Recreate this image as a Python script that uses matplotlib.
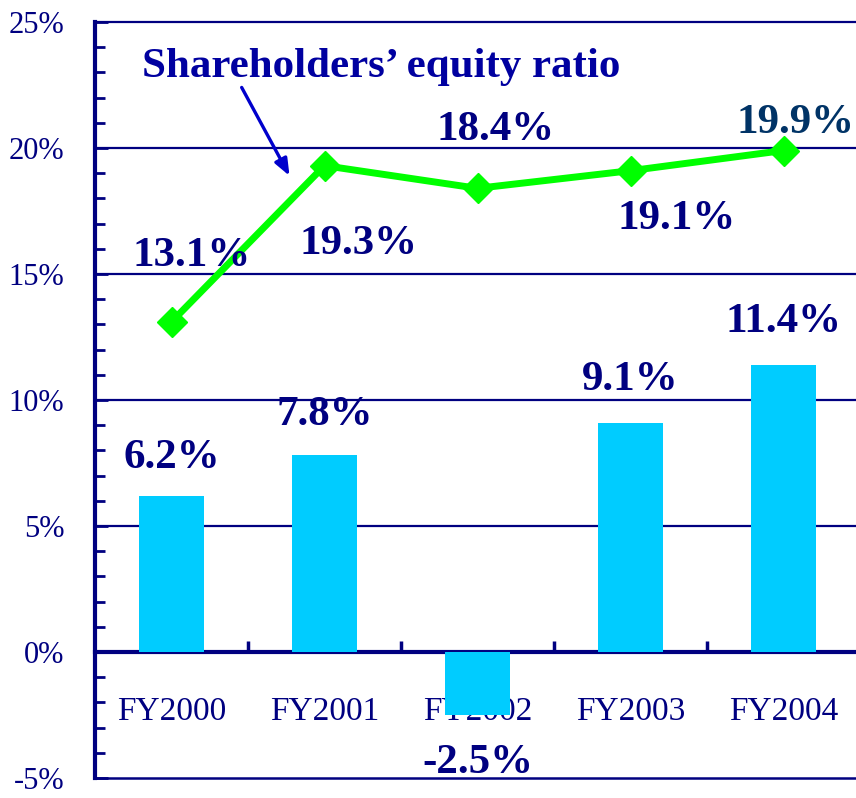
import matplotlib.pyplot as plt
import numpy as np
from matplotlib.ticker import MultipleLocator, FixedLocator

# Data
years = ['FY2000', 'FY2001', 'FY2002', 'FY2003', 'FY2004']
roe = [6.2, 7.8, -2.5, 9.1, 11.4]
equity_ratio = [13.1, 19.3, 18.4, 19.1, 19.9]

# label offsets (data units, x / y) relative to each mark
bar_lbl_dy = [1.5, 1.6, -1.9, 1.7, 1.7]
line_lbl_dx = [0.13, 0.22, 0.12, 0.30, 0.08]
line_lbl_dy = [2.6, -3.1, 2.3, -1.9, 1.1]
line_lbl_col = ['#000080', '#000080', '#000080', '#000080', '#003366']

navy = '#000080'
serif = ['Liberation Serif', 'DejaVu Serif']

fig = plt.figure(figsize=(8.56, 7.98), dpi=100)
ax = fig.add_axes([95 / 856, 20 / 798, 765 / 856, 756 / 798])

x = np.arange(len(years))
ax.bar(x, roe, width=0.425, color='#00CCFF', zorder=3)
ax.plot(x, equity_ratio, color='#00FF00', lw=5, marker='D', ms=15,
        zorder=4)

for xi, v, dy in zip(x, roe, bar_lbl_dy):
    ax.text(xi, v + dy, f'{v:.1f}%', ha='center', va='center', fontsize=31,
            fontweight='bold', color=navy, family=serif, zorder=5)
for xi, v, dx, dy, c in zip(x, equity_ratio, line_lbl_dx, line_lbl_dy, line_lbl_col):
    ax.text(xi + dx, v + dy, f'{v:.1f}%', ha='center', va='center', fontsize=31,
            fontweight='bold', color=c, family=serif, zorder=5)

# title of the line series + arrow
ax.text(1.37, 23.2, 'Shareholders\u2019 equity ratio', ha='center', va='center',
        fontsize=31, fontweight='bold', color='#0000A0', family=serif)
ax.annotate('', xy=(0.78, 18.8), xytext=(0.45, 22.5),
            arrowprops=dict(arrowstyle='-|>,head_length=1.0,head_width=0.4',
                            color='#0000CC', lw=2.4))

ax.set_xlim(-0.5, 4.5)
ax.set_ylim(-5, 25)

# y axis
ax.yaxis.set_minor_locator(MultipleLocator(1))
ax.set_yticks(np.arange(-5, 26, 5))
ax.set_yticklabels([f'{t}%' for t in range(-5, 26, 5)])
ax.tick_params(axis='y', which='both', direction='in', colors=navy, width=2,
               labelsize=22, pad=22)
ax.tick_params(axis='y', which='major', length=9)
ax.tick_params(axis='y', which='minor', length=7)
for lbl in ax.get_yticklabels():
    lbl.set_family(serif)

# x axis at zero
ax.spines['bottom'].set_position(('data', 0))
ax.spines['bottom'].set_color(navy)
ax.spines['bottom'].set_linewidth(3)
ax.set_xticks(x)
ax.set_xticklabels(years)
ax.xaxis.set_minor_locator(FixedLocator([0.5, 1.5, 2.5, 3.5]))
ax.tick_params(axis='x', which='major', length=0, pad=32, labelsize=24,
               colors=navy)
ax.tick_params(axis='x', which='minor', direction='in', length=8, width=2.5,
               colors=navy)
for lbl in ax.get_xticklabels():
    lbl.set_family(serif)
    lbl.set_zorder(6)

ax.spines['left'].set_color(navy)
ax.spines['left'].set_linewidth(3)
ax.spines['top'].set_color(navy)
ax.spines['top'].set_linewidth(1.6)
ax.spines['right'].set_visible(False)

for g in [5, 10, 15, 20]:
    ax.axhline(g, color=navy, lw=1.6, zorder=1)
ax.axhline(-5, color=navy, lw=1.8, zorder=1, clip_on=False)

fig.savefig('out.png', dpi=100)
